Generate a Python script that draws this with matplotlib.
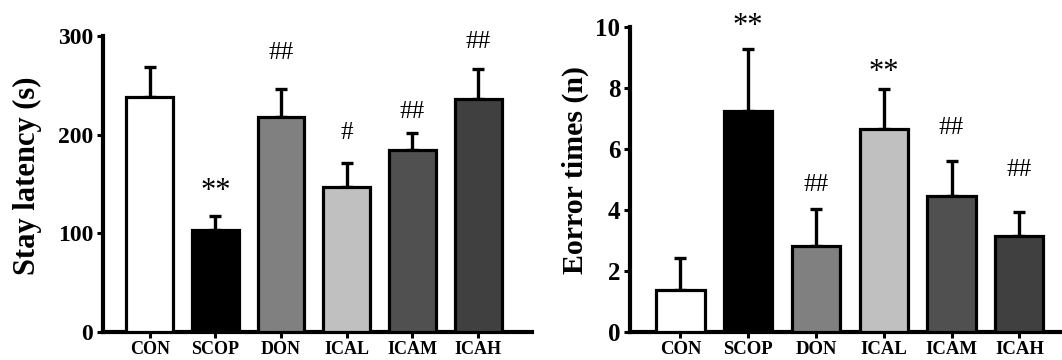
import numpy as np
import matplotlib
matplotlib.use("Agg")
import matplotlib.pyplot as plt

# Data
groups = ["CON", "SCOP", "DON", "ICAL", "ICAM", "ICAH"]
bar_colors = ["#ffffff", "#000000", "#808080", "#c0c0c0", "#505050", "#404040"]

# Stay latency (s)
latency_mean = [238, 103, 218, 147, 185, 236]
latency_sem = [31, 15, 28, 24, 17, 31]
latency_marks = ["", "**", "##", "#", "##", "##"]
latency_mark_y = [0, 142, 283, 202, 223, 294]
latency_ticks = [0, 100, 200, 300]

# Eorror times (n)
error_mean = [1.36, 7.25, 2.81, 6.65, 4.47, 3.16]
error_sem = [1.07, 2.01, 1.23, 1.30, 1.12, 0.78]
error_marks = ["", "**", "##", "**", "##", "##"]
error_mark_y = [0, 10.0, 4.83, 8.5, 6.69, 5.32]
error_ticks = [0, 2, 4, 6, 8, 10]

plt.rcParams["font.family"] = ["Liberation Serif", "DejaVu Serif"]
plt.rcParams["font.weight"] = "bold"


def draw_panel(ax, means, sems, marks, mark_y, yticks, xlim, tick_size, xtick_size):
    x = np.arange(len(groups))
    ax.bar(x, means, width=0.71, color=bar_colors, edgecolor="black",
           linewidth=2.3, zorder=3)
    # only the upper half of the error bar
    ax.errorbar(x, means, yerr=[np.zeros(len(sems)), sems], fmt="none",
                ecolor="black", elinewidth=2.4, capsize=4, capthick=2.4, zorder=2)
    for xi, m, my in zip(x, marks, mark_y):
        if m:
            # asterisks are small glyphs in this font, so bump their size
            size = 22 if m == "**" else 18
            ax.text(xi, my, m, ha="center", va="center", fontsize=size,
                    fontweight="normal", clip_on=False)

    ax.set_xlim(xlim)
    ax.set_ylim(yticks[0], yticks[-1])
    ax.set_yticks(yticks)
    ax.set_xticks(x)
    ax.set_xticklabels(groups, fontsize=xtick_size, fontweight="bold")
    ax.tick_params(axis="y", labelsize=tick_size, length=4, width=2.2, pad=3)
    ax.tick_params(axis="x", length=4, width=2.2, pad=2.5)
    for lab in ax.get_yticklabels():
        lab.set_fontweight("bold")

    ax.spines["top"].set_visible(False)
    ax.spines["right"].set_visible(False)
    ax.spines["left"].set_linewidth(3)
    ax.spines["bottom"].set_linewidth(3)


fig = plt.figure(figsize=(10.62, 3.6), dpi=100)

ax1 = fig.add_axes([0.097, 0.0778, 0.404, 0.822])
draw_panel(ax1, latency_mean, latency_sem, latency_marks, latency_mark_y,
           latency_ticks, (-0.71, 5.82), 17, 13)
fig.text(0.0254, 0.511, "Stay latency (s)", rotation=90, ha="center",
         va="center", fontsize=22, fontweight="bold")

ax2 = fig.add_axes([0.5932, 0.0778, 0.4068, 0.848])
draw_panel(ax2, error_mean, error_sem, error_marks, error_mark_y,
           error_ticks, (-0.745, 5.63), 18, 13.5)
fig.text(0.5414, 0.528, "Eorror times (n)", rotation=90, ha="center",
         va="center", fontsize=21.5, fontweight="bold")

plt.savefig("out.png", dpi=100)
